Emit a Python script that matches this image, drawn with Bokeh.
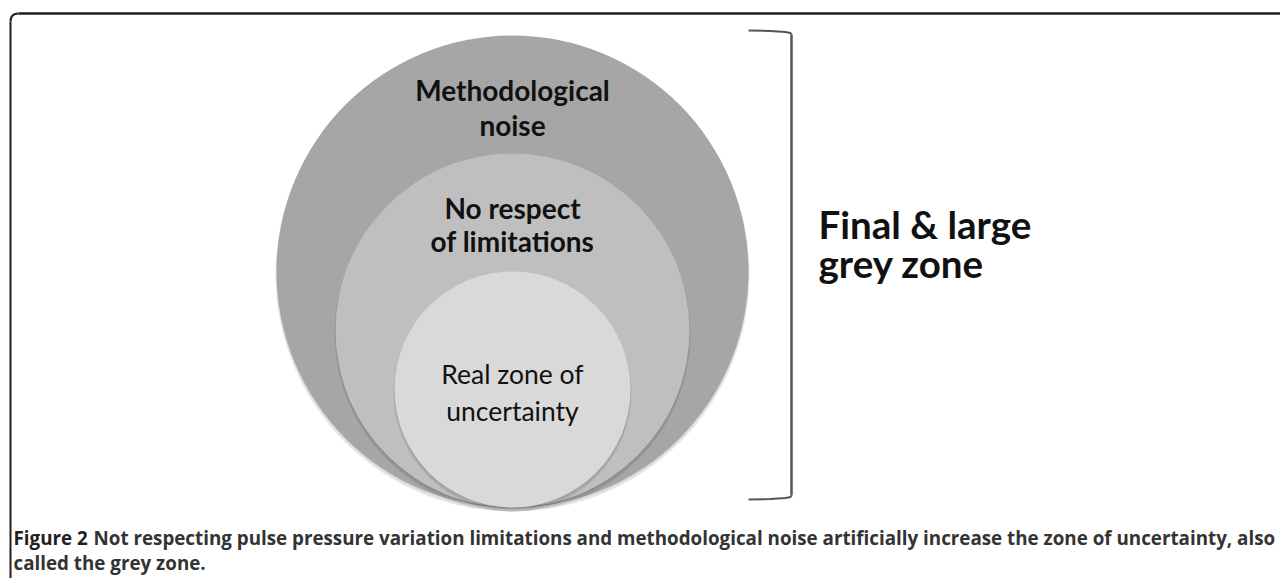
from bokeh.plotting import figure
from bokeh.models import Range1d
from bokeh.embed import file_html
from bokeh.resources import INLINE
from bokeh.core.properties import value

# ---------------- data ----------------
zone_line1 = ["Methodological", "No respect", "Real zone of"]
zone_line2 = ["noise", "of limitations", "uncertainty"]
zone_radius = [236, 177, 118]
zone_colors = ["#a6a6a6", "#bfbfbf", "#d9d9d9"]
zone_style = ["bold", "bold", "normal"]
bracket_label = ["Final & large", "grey zone"]
caption_lead = "Figure 2"
caption_line1 = ("Not respecting pulse pressure variation limitations and methodological "
                 "noise artificially increase the zone of uncertainty, also")
caption_line2 = "called the grey zone."

# ---------------- layout ----------------
W, H = 1280, 578
p = figure(width=W, height=H, x_range=Range1d(0, W), y_range=Range1d(H, 0),
           output_backend="svg", toolbar_location=None, min_border=0)
p.axis.visible = False
p.grid.visible = False
p.outline_line_color = None
p.background_fill_color = "white"
p.border_fill_color = "white"

# frame with rounded top-left corner
cx0, cy0, rr = 10, 13, 8
p.line([cx0, cx0], [H + 5, cy0 + rr], line_color="#231f20", line_width=2)
p.line([cx0 + rr, W + 5], [cy0, cy0], line_color="#231f20", line_width=2.5)
p.quadratic(x0=[cx0], y0=[cy0 + rr], x1=[cx0 + rr], y1=[cy0], cx=[cx0], cy=[cy0],
            line_color="#231f20", line_width=2)

# nested circles tangent at the bottom
xc, ybot = 512, 507
label_offset = [(54, 89), (54, 87), (102, 139)]  # line centres below circle top
for i, r in enumerate(zone_radius):
    yc = ybot - r
    p.circle(x=[xc], y=[yc + 3], radius=r + 1, fill_color="#000000", fill_alpha=0.10,
             line_color=None)
    p.circle(x=[xc], y=[yc + 1.5], radius=r, fill_color="#000000", fill_alpha=0.08,
             line_color=None)
    p.circle(x=[xc], y=[yc], radius=r, fill_color=zone_colors[i], line_color=None)

zone_size = ["28px", "28px", "26.5px"]
for i, r in enumerate(zone_radius):
    top = ybot - 2 * r
    o1, o2 = label_offset[i]
    p.text(x=[xc, xc], y=[top + o1, top + o2], text=[zone_line1[i], zone_line2[i]],
           text_align="center", text_baseline="middle",
           text_font=value("Lato"), text_font_size=zone_size[i],
           text_font_style=zone_style[i], text_color="#111111")

# bracket
bx, btop, bbot, barm = 791, 31, 498, 748
p.line([barm, 770, 785, bx - 1, bx], [btop - 1, btop - 0.5, btop + 0.5, btop + 1.5, btop + 3],
       line_color="#555555", line_width=2)
p.line([bx, bx], [btop + 3, bbot - 3], line_color="#555555", line_width=2.5)
p.line([bx, bx - 1, 785, 770, barm], [bbot - 3, bbot - 1.5, bbot - 0.5, bbot + 0.5, bbot + 1],
       line_color="#555555", line_width=2)

p.text(x=[818, 818], y=[223, 262], text=bracket_label, text_align="left",
       text_baseline="middle", text_font=value("Lato"), text_font_size="38.5px",
       text_font_style="bold", text_color="#111111")

# caption
cap_size = "18.8px"
p.text(x=[13], y=[537], text=[caption_lead], text_align="left", text_baseline="middle",
       text_font=value("Open Sans"), text_font_size=cap_size, text_font_style="bold",
       text_color="#231f20")
p.text(x=[93], y=[537], text=[caption_line1], text_align="left", text_baseline="middle",
       text_font=value("Open Sans"), text_font_size=cap_size, text_font_style="bold",
       text_color="#333333")
p.text(x=[13], y=[562], text=[caption_line2], text_align="left", text_baseline="middle",
       text_font=value("Open Sans"), text_font_size=cap_size, text_font_style="bold",
       text_color="#333333")

open("out.html", "w").write(file_html(p, INLINE))
